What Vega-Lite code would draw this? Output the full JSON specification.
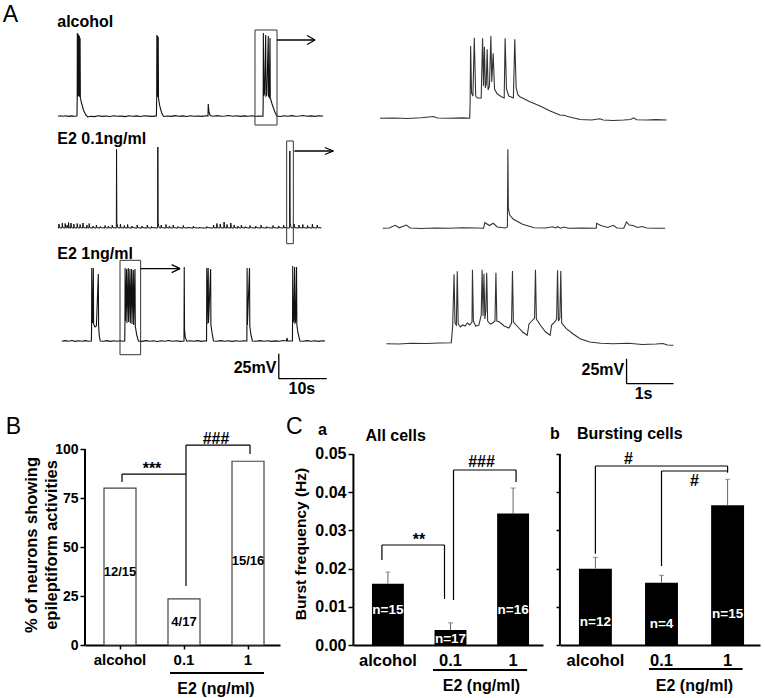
{
"$schema": "https://vega.github.io/schema/vega-lite/v6.json",
"padding": 0,
"background": "white",
"spacing": 0,
"config": {
  "font": "Liberation Sans",
  "view": {"stroke": null},
  "axis": {"labelColor": "#000", "titleColor": "#000", "domainColor": "#000", "tickColor": "#000", "grid": false},
  "text": {"font": "Liberation Sans", "color": "#000"}
},
"datasets": {
  "alcL": [
    {"t":0,"v":-60.2},{"t":0.5,"v":-59.7},{"t":1.0,"v":-60.3},{"t":1.6,"v":-59.8},{"t":2.2,"v":-60.4},{"t":2.8,"v":-59.9},{"t":3.4,"v":-60.3},{"t":3.95,"v":-60.0},
    {"t":4.0,"v":-44},{"t":4.03,"v":23},{"t":4.09,"v":-41},{"t":4.18,"v":22},{"t":4.24,"v":-40},{"t":4.32,"v":21},{"t":4.38,"v":-40},{"t":4.46,"v":20},{"t":4.52,"v":-41},{"t":4.6,"v":18},{"t":4.66,"v":-42},{"t":4.9,"v":-47},{"t":5.3,"v":-54},{"t":5.8,"v":-59},{"t":6.2,"v":-61},
    {"t":6.9,"v":-60.2},{"t":7.6,"v":-60.6},{"t":8.4,"v":-59.8},{"t":9.2,"v":-60.4},{"t":10.0,"v":-60.0},{"t":10.8,"v":-60.5},{"t":11.6,"v":-59.7},{"t":12.4,"v":-60.3},{"t":13.2,"v":-60.1},{"t":14.0,"v":-60.6},{"t":14.8,"v":-59.8},{"t":15.6,"v":-60.2},{"t":16.4,"v":-59.9},{"t":17.2,"v":-60.5},{"t":18.0,"v":-59.8},{"t":18.8,"v":-60.1},{"t":19.6,"v":-60.4},{"t":20.5,"v":-59.9},
    {"t":20.56,"v":-43},{"t":20.6,"v":21},{"t":20.66,"v":-40},{"t":20.74,"v":20},{"t":20.8,"v":-41},{"t":20.88,"v":19},{"t":20.94,"v":-42},{"t":21.2,"v":-50},{"t":21.6,"v":-57},{"t":22.0,"v":-60.5},
    {"t":22.8,"v":-60.0},{"t":23.6,"v":-60.4},{"t":24.4,"v":-59.6},{"t":25.2,"v":-60.2},{"t":26.0,"v":-59.9},{"t":26.8,"v":-60.5},{"t":27.6,"v":-59.7},{"t":28.4,"v":-60.3},{"t":29.2,"v":-60.0},{"t":30.0,"v":-60.4},{"t":30.8,"v":-59.8},{"t":31.25,"v":-60.0},{"t":31.3,"v":-48},{"t":31.45,"v":-56},{"t":31.7,"v":-59.5},
    {"t":32.4,"v":-60.2},{"t":33.2,"v":-59.6},{"t":34.0,"v":-60.3},{"t":34.8,"v":-60.0},{"t":35.6,"v":-59.5},{"t":36.4,"v":-60.3},{"t":37.2,"v":-59.8},{"t":38.0,"v":-60.4},{"t":38.8,"v":-59.9},{"t":39.6,"v":-60.2},{"t":40.4,"v":-59.7},{"t":41.2,"v":-60.3},{"t":42.0,"v":-60.0},{"t":42.7,"v":-60.2},
    {"t":42.75,"v":-44},{"t":42.78,"v":23},{"t":42.85,"v":-40},{"t":43.0,"v":-38},{"t":43.27,"v":21},{"t":43.33,"v":-40},{"t":43.5,"v":-39},{"t":43.81,"v":20},{"t":43.87,"v":-40},{"t":44.0,"v":-41},{"t":44.17,"v":18},{"t":44.23,"v":-42},{"t":44.6,"v":-48},{"t":45.1,"v":-55},{"t":45.6,"v":-60},
    {"t":46.3,"v":-60.5},{"t":47.1,"v":-59.8},{"t":47.9,"v":-60.2},{"t":48.7,"v":-59.6},{"t":49.5,"v":-60.3},{"t":50.3,"v":-60.0},{"t":51.1,"v":-59.5},{"t":51.9,"v":-60.2},{"t":52.7,"v":-59.9},{"t":53.5,"v":-60.4},{"t":54.3,"v":-59.8},{"t":55.2,"v":-60.0}
  ],
  "e01L": [
    {"t":0.0,"v":-60.0},
    {"t":0.14,"v":-60.1},{"t":0.2,"v":-56},{"t":0.3,"v":-59.6},
    {"t":0.84,"v":-60.1},{"t":0.9,"v":-55},{"t":1.0,"v":-59.6},
    {"t":1.44,"v":-60.1},{"t":1.5,"v":-55.5},{"t":1.6,"v":-59.6},
    {"t":1.84,"v":-60.1},{"t":1.9,"v":-57},{"t":2.0,"v":-59.6},
    {"t":2.14,"v":-60.1},{"t":2.2,"v":-54.5},{"t":2.3,"v":-59.6},
    {"t":2.64,"v":-60.1},{"t":2.7,"v":-55},{"t":2.8,"v":-59.6},
    {"t":3.24,"v":-60.1},{"t":3.3,"v":-56},{"t":3.4,"v":-59.6},
    {"t":3.94,"v":-60.1},{"t":4.0,"v":-55.5},{"t":4.1,"v":-59.6},
    {"t":4.54,"v":-60.1},{"t":4.6,"v":-56.5},{"t":4.7,"v":-59.6},
    {"t":5.14,"v":-60.1},{"t":5.2,"v":-55},{"t":5.3,"v":-59.6},
    {"t":5.94,"v":-60.1},{"t":6.0,"v":-57},{"t":6.1,"v":-59.6},
    {"t":6.44,"v":-60.1},{"t":6.5,"v":-55.5},{"t":6.6,"v":-59.6},
    {"t":7.24,"v":-60.1},{"t":7.3,"v":-58},{"t":7.4,"v":-59.6},
    {"t":7.94,"v":-60.1},{"t":8.0,"v":-57},{"t":8.1,"v":-59.6},
    {"t":8.74,"v":-60.1},{"t":8.8,"v":-58.5},{"t":8.9,"v":-59.6},
    {"t":9.74,"v":-60.1},{"t":9.8,"v":-57.5},{"t":9.9,"v":-59.6},
    {"t":10.44,"v":-60.1},{"t":10.5,"v":-58},{"t":10.6,"v":-59.6},
    {"t":11.24,"v":-60.1},{"t":11.3,"v":-57},{"t":11.4,"v":-59.6},
    {"t":12.15,"v":-60},{"t":12.2,"v":18.7},{"t":12.26,"v":-55},{"t":12.45,"v":-59.5},
    {"t":12.94,"v":-60.1},{"t":13.0,"v":-56},{"t":13.1,"v":-59.6},
    {"t":13.74,"v":-60.1},{"t":13.8,"v":-57.5},{"t":13.9,"v":-59.6},
    {"t":14.44,"v":-60.1},{"t":14.5,"v":-56.5},{"t":14.6,"v":-59.6},
    {"t":15.34,"v":-60.1},{"t":15.4,"v":-58},{"t":15.5,"v":-59.6},
    {"t":16.44,"v":-60.1},{"t":16.5,"v":-57},{"t":16.6,"v":-59.6},
    {"t":17.44,"v":-60.1},{"t":17.5,"v":-58},{"t":17.6,"v":-59.6},
    {"t":18.54,"v":-60.1},{"t":18.6,"v":-57},{"t":18.7,"v":-59.6},
    {"t":19.44,"v":-60.1},{"t":19.5,"v":-58.5},{"t":19.6,"v":-59.6},
    {"t":20.75,"v":-60},{"t":20.8,"v":21},{"t":20.86,"v":-55},{"t":21.05,"v":-59.5},
    {"t":21.44,"v":-60.1},{"t":21.5,"v":-57},{"t":21.6,"v":-59.6},
    {"t":22.44,"v":-60.1},{"t":22.5,"v":-56.5},{"t":22.6,"v":-59.6},
    {"t":23.14,"v":-60.1},{"t":23.2,"v":-58},{"t":23.3,"v":-59.6},
    {"t":23.94,"v":-60.1},{"t":24.0,"v":-57},{"t":24.1,"v":-59.6},
    {"t":24.94,"v":-60.1},{"t":25.0,"v":-58.5},{"t":25.1,"v":-59.6},
    {"t":26.04,"v":-60.1},{"t":26.1,"v":-57.5},{"t":26.2,"v":-59.6},
    {"t":26.94,"v":-60.1},{"t":27.0,"v":-59},{"t":27.1,"v":-59.6},
    {"t":28.14,"v":-60.1},{"t":28.2,"v":-58},{"t":28.3,"v":-59.6},
    {"t":29.44,"v":-60.1},{"t":29.5,"v":-59},{"t":29.6,"v":-59.8},
    {"t":30.94,"v":-60.1},{"t":31.0,"v":-58.5},{"t":31.1,"v":-59.6},
    {"t":32.34,"v":-60.1},{"t":32.4,"v":-57},{"t":32.5,"v":-59.6},
    {"t":33.04,"v":-60.1},{"t":33.1,"v":-55.5},{"t":33.2,"v":-59.6},
    {"t":33.74,"v":-60.1},{"t":33.8,"v":-56},{"t":33.9,"v":-59.6},
    {"t":34.54,"v":-60.1},{"t":34.6,"v":-54},{"t":34.7,"v":-59.6},
    {"t":35.14,"v":-60.1},{"t":35.2,"v":-56.5},{"t":35.3,"v":-59.6},
    {"t":35.94,"v":-60.1},{"t":36.0,"v":-55},{"t":36.1,"v":-59.6},
    {"t":36.64,"v":-60.1},{"t":36.7,"v":-57},{"t":36.8,"v":-59.6},
    {"t":37.44,"v":-60.1},{"t":37.5,"v":-58},{"t":37.6,"v":-59.6},
    {"t":38.14,"v":-60.1},{"t":38.2,"v":-57},{"t":38.3,"v":-59.6},
    {"t":38.94,"v":-60.1},{"t":39.0,"v":-58.5},{"t":39.1,"v":-59.6},
    {"t":39.94,"v":-60.1},{"t":40.0,"v":-57.5},{"t":40.1,"v":-59.6},
    {"t":41.14,"v":-60.1},{"t":41.2,"v":-58},{"t":41.3,"v":-59.6},
    {"t":42.24,"v":-60.1},{"t":42.3,"v":-57},{"t":42.4,"v":-59.6},
    {"t":43.44,"v":-60.1},{"t":43.5,"v":-58.5},{"t":43.6,"v":-59.6},
    {"t":44.74,"v":-60.1},{"t":44.8,"v":-57.5},{"t":44.9,"v":-59.6},
    {"t":45.94,"v":-60.1},{"t":46.0,"v":-58},{"t":46.1,"v":-59.6},
    {"t":46.94,"v":-60.1},{"t":47.0,"v":-57},{"t":47.1,"v":-59.6},
    {"t":48.25,"v":-60},{"t":48.3,"v":17},{"t":48.36,"v":-55},{"t":48.55,"v":-59.5},
    {"t":49.14,"v":-60.1},{"t":49.2,"v":-56},{"t":49.3,"v":-59.6},
    {"t":50.14,"v":-60.1},{"t":50.2,"v":-57},{"t":50.3,"v":-59.6},
    {"t":50.94,"v":-60.1},{"t":51.0,"v":-56.5},{"t":51.1,"v":-59.6},
    {"t":51.94,"v":-60.1},{"t":52.0,"v":-57.5},{"t":52.1,"v":-59.6},
    {"t":52.94,"v":-60.1},{"t":53.0,"v":-56},{"t":53.1,"v":-59.6},
    {"t":53.94,"v":-60.1},{"t":54.0,"v":-57},{"t":54.1,"v":-59.6},
    {"t":54.9,"v":-59.8}
  ],
  "e1L": [
    {"t":0.8,"v":-60.2},{"t":1.5,"v":-59.6},{"t":2.2,"v":-60.3},{"t":2.9,"v":-59.5},{"t":3.6,"v":-60.4},{"t":4.3,"v":-59.8},{"t":5.0,"v":-60.2},{"t":5.7,"v":-59.6},{"t":6.4,"v":-60.3},{"t":6.95,"v":-60},
    {"t":7.0,"v":-45},{"t":7.03,"v":13},{"t":7.09,"v":-42},{"t":7.2,"v":-41},{"t":7.36,"v":13},{"t":7.42,"v":-43},{"t":7.7,"v":-46},{"t":8.0,"v":-45},{"t":8.4,"v":7},{"t":8.46,"v":-45},{"t":8.6,"v":-55},{"t":8.8,"v":-60},
    {"t":9.5,"v":-60.3},{"t":10.2,"v":-59.6},{"t":10.9,"v":-60.4},{"t":11.6,"v":-59.8},{"t":12.3,"v":-60.2},{"t":13.0,"v":-59.7},{"t":13.6,"v":-60.3},{"t":13.9,"v":-60},
    {"t":13.95,"v":-44},{"t":13.98,"v":13},{"t":14.04,"v":-40},{"t":14.3,"v":12},{"t":14.36,"v":-42},{"t":14.65,"v":13},{"t":14.71,"v":-41},{"t":15.0,"v":12},{"t":15.06,"v":-42},{"t":15.35,"v":12},{"t":15.41,"v":-43},{"t":15.7,"v":11},{"t":15.76,"v":-44},{"t":16.04,"v":12},{"t":16.1,"v":-45},{"t":16.4,"v":-54},{"t":16.75,"v":-60},
    {"t":17.5,"v":-60.4},{"t":18.3,"v":-59.6},{"t":19.1,"v":-60.2},{"t":19.9,"v":-59.8},{"t":20.7,"v":-60.5},{"t":21.5,"v":-59.7},{"t":22.3,"v":-60.3},{"t":23.1,"v":-59.5},{"t":23.9,"v":-60.2},{"t":24.7,"v":-59.8},{"t":25.5,"v":-60.4},{"t":26.25,"v":-60},
    {"t":26.3,"v":14},{"t":26.36,"v":-48},{"t":26.5,"v":-56},{"t":26.8,"v":-60.2},
    {"t":27.5,"v":-59.7},{"t":28.3,"v":-60.3},{"t":29.1,"v":-59.6},{"t":29.9,"v":-60.4},{"t":30.6,"v":-59.8},{"t":30.95,"v":-60},
    {"t":31.0,"v":13},{"t":31.06,"v":-43},{"t":31.3,"v":13},{"t":31.36,"v":-42},{"t":31.8,"v":12},{"t":31.86,"v":-44},{"t":32.1,"v":-52},{"t":32.4,"v":-60},
    {"t":33.1,"v":-60.3},{"t":33.9,"v":-59.6},{"t":34.7,"v":-60.2},{"t":35.5,"v":-59.8},{"t":36.3,"v":-60.4},{"t":37.1,"v":-59.7},{"t":37.9,"v":-60.2},{"t":38.7,"v":-59.8},{"t":39.35,"v":-60},
    {"t":39.4,"v":13},{"t":39.46,"v":-44},{"t":39.9,"v":13},{"t":39.96,"v":-45},{"t":40.2,"v":-54},{"t":40.5,"v":-60},
    {"t":41.3,"v":-60.3},{"t":42.1,"v":-59.6},{"t":42.9,"v":-60.2},{"t":43.7,"v":-59.7},{"t":44.5,"v":-60.4},{"t":45.3,"v":-59.9},{"t":46.1,"v":-60.2},{"t":46.9,"v":-59.5},{"t":47.6,"v":-60.0},{"t":47.7,"v":-57},{"t":47.85,"v":-60},{"t":48.85,"v":-60},
    {"t":48.9,"v":15},{"t":48.96,"v":-41},{"t":49.1,"v":-40},{"t":49.3,"v":14},{"t":49.36,"v":-42},{"t":49.5,"v":-41},{"t":49.7,"v":14},{"t":49.76,"v":-44},{"t":50.0,"v":-52},{"t":50.4,"v":-60},
    {"t":51.1,"v":-60.3},{"t":51.9,"v":-59.6},{"t":52.7,"v":-60.2},{"t":53.5,"v":-59.8},{"t":54.3,"v":-60.4},{"t":55.0,"v":-59.7},{"t":55.6,"v":-60.1}
  ],
  "alcR": [
    {"t":0.0,"v":-62.3},{"t":0.3,"v":-62.0},{"t":0.6,"v":-62.5},{"t":0.9,"v":-61.8},{"t":1.16,"v":-60.5},{"t":1.25,"v":-62.0},{"t":1.5,"v":-62.3},{"t":1.8,"v":-61.9},{"t":1.95,"v":-62.2},
    {"t":1.96,"v":-45},{"t":1.97,"v":10},{"t":1.99,"v":-37},{"t":2.02,"v":-40},{"t":2.05,"v":18.3},{"t":2.08,"v":-40},{"t":2.12,"v":-42},{"t":2.2,"v":-42},{"t":2.23,"v":17.7},{"t":2.25,"v":-30},{"t":2.27,"v":9.3},{"t":2.29,"v":-32},{"t":2.31,"v":-28},{"t":2.33,"v":6.7},{"t":2.35,"v":-34},{"t":2.38,"v":-30},{"t":2.41,"v":20},{"t":2.43,"v":-26},{"t":2.46,"v":2.7},{"t":2.49,"v":-33},{"t":2.55,"v":-38},{"t":2.65,"v":-41},{"t":2.7,"v":-42},{"t":2.72,"v":17.7},{"t":2.75,"v":-33},{"t":2.8,"v":-40},{"t":2.9,"v":-42},{"t":2.93,"v":16.7},{"t":2.96,"v":-32},{"t":3.0,"v":-39},
    {"t":3.04,"v":-40.7},{"t":3.26,"v":-45.7},{"t":3.48,"v":-50},{"t":3.7,"v":-55},{"t":3.91,"v":-59},{"t":4.02,"v":-59.5},{"t":4.08,"v":-60.5},{"t":4.35,"v":-63.5},{"t":4.6,"v":-64},{"t":4.78,"v":-62.8},{"t":4.85,"v":-64},{"t":5.07,"v":-64.5},{"t":5.3,"v":-64},{"t":5.45,"v":-63.5},{"t":5.51,"v":-61.8},{"t":5.58,"v":-63.8},{"t":5.8,"v":-64},{"t":6.0,"v":-63.6},{"t":6.23,"v":-64}
  ],
  "e01R": [
    {"t":0.06,"v":-60.3},{"t":0.2,"v":-60.0},{"t":0.33,"v":-57.3},{"t":0.42,"v":-59.8},{"t":0.57,"v":-57.0},{"t":0.66,"v":-60},{"t":0.9,"v":-60.5},{"t":1.2,"v":-60.0},{"t":1.5,"v":-60.3},{"t":1.8,"v":-59.8},{"t":2.1,"v":-60.0},{"t":2.25,"v":-60.3},{"t":2.28,"v":-54.7},{"t":2.38,"v":-57.5},{"t":2.46,"v":-55.3},{"t":2.55,"v":-59},{"t":2.72,"v":-60},{"t":2.77,"v":-59},
    {"t":2.78,"v":18.7},{"t":2.79,"v":-40},{"t":2.82,"v":-47},{"t":2.9,"v":-51.3},{"t":3.1,"v":-56.3},{"t":3.35,"v":-59.7},{"t":3.6,"v":-60},{"t":3.75,"v":-58.7},{"t":3.82,"v":-60},{"t":3.86,"v":-58.7},{"t":3.93,"v":-60.2},{"t":4.0,"v":-59},{"t":4.1,"v":-60.2},{"t":4.4,"v":-60},{"t":4.7,"v":-60.3},{"t":4.71,"v":-55.3},{"t":4.8,"v":-57.5},{"t":4.95,"v":-59.5},{"t":5.07,"v":-57.3},{"t":5.15,"v":-60},{"t":5.3,"v":-60.2},{"t":5.36,"v":-54},{"t":5.42,"v":-57},{"t":5.5,"v":-57.5},{"t":5.6,"v":-59.5},{"t":5.7,"v":-58.5},{"t":5.8,"v":-60},{"t":6.0,"v":-60.3},{"t":6.2,"v":-60.2}
  ],
  "e1R": [
    {"t":0.14,"v":-62.7},{"t":0.4,"v":-63},{"t":0.7,"v":-62.3},{"t":1.0,"v":-62.5},{"t":1.3,"v":-62.0},{"t":1.55,"v":-61.8},
    {"t":1.58,"v":-45},{"t":1.61,"v":6.7},{"t":1.63,"v":-42},{"t":1.66,"v":-44},{"t":1.68,"v":9.7},{"t":1.7,"v":-43},{"t":1.75,"v":-46},{"t":1.8,"v":-44},{"t":1.85,"v":-45},{"t":1.9,"v":-42},{"t":1.95,"v":-44},{"t":2.0,"v":-41},{"t":2.01,"v":11.3},{"t":2.03,"v":-40},{"t":2.08,"v":-45},{"t":2.15,"v":-44},{"t":2.2,"v":-34},{"t":2.22,"v":11.3},{"t":2.24,"v":-35},{"t":2.26,"v":7.3},{"t":2.28,"v":-38},{"t":2.3,"v":-30},{"t":2.32,"v":8.3},{"t":2.34,"v":-40},{"t":2.4,"v":-43},{"t":2.45,"v":-42},{"t":2.5,"v":-40},{"t":2.52,"v":8.3},{"t":2.54,"v":-40},{"t":2.6,"v":-41},{"t":2.7,"v":-45},{"t":2.8,"v":-47},{"t":2.86,"v":-42},{"t":2.88,"v":10},{"t":2.9,"v":-41},{"t":3.0,"v":-46},{"t":3.1,"v":-51},{"t":3.2,"v":-54.3},{"t":3.24,"v":-43},{"t":3.3,"v":-40},{"t":3.36,"v":-37},{"t":3.38,"v":11.3},{"t":3.4,"v":-38},{"t":3.5,"v":-45},{"t":3.6,"v":-51},{"t":3.7,"v":-54.3},{"t":3.73,"v":-44},{"t":3.8,"v":-41},{"t":3.84,"v":-38},{"t":3.86,"v":10.7},{"t":3.88,"v":-40},{"t":3.91,"v":-37},{"t":3.93,"v":10},{"t":3.95,"v":-42},
    {"t":4.05,"v":-47.7},{"t":4.2,"v":-53},{"t":4.35,"v":-57.7},{"t":4.56,"v":-61},{"t":4.8,"v":-62.3},{"t":5.07,"v":-62.7},{"t":5.4,"v":-62.2},{"t":5.7,"v":-63.5},{"t":6.0,"v":-63},{"t":6.15,"v":-62.5},{"t":6.25,"v":-64},{"t":6.38,"v":-64.3}
  ]
},
"vconcat": [
  {"bounds": "flush", "spacing": 0, "hconcat": [
   {"width": 345, "height": 130, "layer": [
     {"data": {"name": "alcL"}, "mark": {"type": "line", "color": "#111", "strokeWidth": 1.1},
      "encoding": {"x": {"field": "t", "type": "quantitative", "scale": {"domain": [-12.083, 59.792], "nice": false, "zero": false}, "axis": null},
                   "y": {"field": "v", "type": "quantitative", "scale": {"domain": [-74, 56], "nice": false, "zero": false}, "axis": null}}},
     {"data": {"values": [{"t1": 41.04, "t2": 45.63, "v1": -69, "v2": 26}]}, "mark": {"type": "rect", "fill": "transparent", "stroke": "#333", "strokeWidth": 1},
      "encoding": {"x": {"field": "t1", "type": "quantitative", "axis": null}, "x2": {"field": "t2"}, "y": {"field": "v1", "type": "quantitative", "axis": null}, "y2": {"field": "v2"}}},
     {"data": {"values": [{"t1": 45.63, "t2": 53.54, "v1": 16, "v2": 16}, {"t1": 53.54, "t2": 51.9, "v1": 16, "v2": 20.5}, {"t1": 53.54, "t2": 51.9, "v1": 16, "v2": 11.5}]}, "mark": {"type": "rule", "color": "#000", "strokeWidth": 1.3},
      "encoding": {"x": {"field": "t1", "type": "quantitative", "axis": null}, "x2": {"field": "t2"}, "y": {"field": "v1", "type": "quantitative", "axis": null}, "y2": {"field": "v2"}}},
     {"data": {"values": [{}]}, "mark": {"type": "text", "text": "alcohol", "align": "left", "baseline": "alphabetic", "fontSize": 16, "fontWeight": "bold"},
      "encoding": {"x": {"datum": -0.15, "type": "quantitative", "axis": null}, "y": {"datum": 29.3, "type": "quantitative", "axis": null}}},
     {"data": {"values": [{}]}, "mark": {"type": "text", "text": "A", "align": "center", "baseline": "alphabetic", "fontSize": 23},
      "encoding": {"x": {"datum": -9.9, "type": "quantitative", "axis": null}, "y": {"datum": 34, "type": "quantitative", "axis": null}}}
   ]},
   {"width": 420, "height": 130, "data": {"name": "alcR"}, "mark": {"type": "line", "color": "#333", "strokeWidth": 1.1},
    "encoding": {"x": {"field": "t", "type": "quantitative", "scale": {"domain": [-0.761, 8.37], "nice": false, "zero": false}, "axis": null},
                 "y": {"field": "v", "type": "quantitative", "scale": {"domain": [-74, 56], "nice": false, "zero": false}, "axis": null}}}
  ]},
  {"bounds": "flush", "spacing": 0, "hconcat": [
   {"width": 345, "height": 115, "layer": [
     {"data": {"name": "e01L"}, "mark": {"type": "line", "color": "#111", "strokeWidth": 1.0},
      "encoding": {"x": {"field": "t", "type": "quantitative", "scale": {"domain": [-12.083, 59.792], "nice": false, "zero": false}, "axis": null},
                   "y": {"field": "v", "type": "quantitative", "scale": {"domain": [-78, 37], "nice": false, "zero": false}, "axis": null}}},
     {"data": {"values": [{"t1": 47.64, "t2": 49.03, "v1": -75.7, "v2": 27}]}, "mark": {"type": "rect", "fill": "transparent", "stroke": "#333", "strokeWidth": 1},
      "encoding": {"x": {"field": "t1", "type": "quantitative", "axis": null}, "x2": {"field": "t2"}, "y": {"field": "v1", "type": "quantitative", "axis": null}, "y2": {"field": "v2"}}},
     {"data": {"values": [{"t1": 49.24, "t2": 57.36, "v1": 17, "v2": 17}, {"t1": 57.36, "t2": 55.6, "v1": 17, "v2": 20.5}, {"t1": 57.36, "t2": 55.6, "v1": 17, "v2": 13.5}]}, "mark": {"type": "rule", "color": "#000", "strokeWidth": 1.3},
      "encoding": {"x": {"field": "t1", "type": "quantitative", "axis": null}, "x2": {"field": "t2"}, "y": {"field": "v1", "type": "quantitative", "axis": null}, "y2": {"field": "v2"}}},
     {"data": {"values": [{}]}, "mark": {"type": "text", "text": "E2 0.1ng/ml", "align": "left", "baseline": "alphabetic", "fontSize": 16, "fontWeight": "bold"},
      "encoding": {"x": {"datum": -0.15, "type": "quantitative", "axis": null}, "y": {"datum": 24.3, "type": "quantitative", "axis": null}}}
   ]},
   {"width": 420, "height": 115, "data": {"name": "e01R"}, "mark": {"type": "line", "color": "#333", "strokeWidth": 1.1},
    "encoding": {"x": {"field": "t", "type": "quantitative", "scale": {"domain": [-0.761, 8.37], "nice": false, "zero": false}, "axis": null},
                 "y": {"field": "v", "type": "quantitative", "scale": {"domain": [-78, 37], "nice": false, "zero": false}, "axis": null}}}
  ]},
  {"bounds": "flush", "spacing": 0, "hconcat": [
   {"width": 345, "height": 160, "layer": [
     {"data": {"name": "e1L"}, "mark": {"type": "line", "color": "#111", "strokeWidth": 1.1},
      "encoding": {"x": {"field": "t", "type": "quantitative", "scale": {"domain": [-12.083, 59.792], "nice": false, "zero": false}, "axis": null},
                   "y": {"field": "v", "type": "quantitative", "scale": {"domain": [-126, 34], "nice": false, "zero": false}, "axis": null}}},
     {"data": {"values": [{"t1": 12.92, "t2": 17.22, "v1": -73.7, "v2": 20.7}]}, "mark": {"type": "rect", "fill": "transparent", "stroke": "#333", "strokeWidth": 1},
      "encoding": {"x": {"field": "t1", "type": "quantitative", "axis": null}, "x2": {"field": "t2"}, "y": {"field": "v1", "type": "quantitative", "axis": null}, "y2": {"field": "v2"}}},
     {"data": {"values": [{"t1": 17.22, "t2": 25.42, "v1": 12.3, "v2": 12.3}, {"t1": 25.42, "t2": 23.68, "v1": 12.3, "v2": 16.3}, {"t1": 25.42, "t2": 23.68, "v1": 12.3, "v2": 8.3},
                           {"t1": 46.0, "t2": 46.0, "v1": -72.7, "v2": -97.7}, {"t1": 46.0, "t2": 56.0, "v1": -97.7, "v2": -97.7}]}, "mark": {"type": "rule", "color": "#000", "strokeWidth": 1.3},
      "encoding": {"x": {"field": "t1", "type": "quantitative", "axis": null}, "x2": {"field": "t2"}, "y": {"field": "v1", "type": "quantitative", "axis": null}, "y2": {"field": "v2"}}},
     {"data": {"values": [{}]}, "mark": {"type": "text", "text": "E2 1ng/ml", "align": "left", "baseline": "alphabetic", "fontSize": 16, "fontWeight": "bold"},
      "encoding": {"x": {"datum": -0.15, "type": "quantitative", "axis": null}, "y": {"datum": 21.7, "type": "quantitative", "axis": null}}},
     {"data": {"values": [{}]}, "mark": {"type": "text", "text": "25mV", "align": "right", "baseline": "middle", "fontSize": 16, "fontWeight": "bold"},
      "encoding": {"x": {"datum": 45.5, "type": "quantitative", "axis": null}, "y": {"datum": -87, "type": "quantitative", "axis": null}}},
     {"data": {"values": [{}]}, "mark": {"type": "text", "text": "10s", "align": "center", "baseline": "middle", "fontSize": 16, "fontWeight": "bold"},
      "encoding": {"x": {"datum": 50.8, "type": "quantitative", "axis": null}, "y": {"datum": -107.7, "type": "quantitative", "axis": null}}}
   ]},
   {"width": 420, "height": 160, "layer": [
     {"data": {"name": "e1R"}, "mark": {"type": "line", "color": "#333", "strokeWidth": 1.1},
      "encoding": {"x": {"field": "t", "type": "quantitative", "scale": {"domain": [-0.761, 8.37], "nice": false, "zero": false}, "axis": null},
                   "y": {"field": "v", "type": "quantitative", "scale": {"domain": [-126, 34], "nice": false, "zero": false}, "axis": null}}},
     {"data": {"values": [{"t1": 5.36, "t2": 5.36, "v1": -77.7, "v2": -102.7}, {"t1": 5.36, "t2": 6.38, "v1": -102.7, "v2": -102.7}]}, "mark": {"type": "rule", "color": "#000", "strokeWidth": 1.3},
      "encoding": {"x": {"field": "t1", "type": "quantitative", "axis": null}, "x2": {"field": "t2"}, "y": {"field": "v1", "type": "quantitative", "axis": null}, "y2": {"field": "v2"}}},
     {"data": {"values": [{}]}, "mark": {"type": "text", "text": "25mV", "align": "right", "baseline": "middle", "fontSize": 16, "fontWeight": "bold"},
      "encoding": {"x": {"datum": 5.31, "type": "quantitative", "axis": null}, "y": {"datum": -88.7, "type": "quantitative", "axis": null}}},
     {"data": {"values": [{}]}, "mark": {"type": "text", "text": "1s", "align": "center", "baseline": "middle", "fontSize": 16, "fontWeight": "bold"},
      "encoding": {"x": {"datum": 5.73, "type": "quantitative", "axis": null}, "y": {"datum": -112.7, "type": "quantitative", "axis": null}}}
   ]}
  ]},
 {"bounds": "flush", "spacing": 0, "hconcat": [
  {"width": 85, "height": 238, "data": {"values": []}, "mark": "point"},
  {"width": 195, "height": 238, "layer": [
    {"data": {"values": [{"group": "alcohol", "pct": 80}, {"group": "0.1", "pct": 23.5}, {"group": "1", "pct": 93.75}]},
     "mark": {"type": "bar", "fill": "white", "stroke": "#444", "strokeWidth": 1.2},
     "encoding": {
       "x": {"field": "group", "type": "nominal", "sort": ["alcohol", "0.1", "1"], "scale": {"domain": ["alcohol", "0.1", "1"], "paddingInner": 0.5, "paddingOuter": 0.2734, "align": 0.543},
             "axis": {"title": null, "labelAngle": 0, "labelFontSize": 15, "labelFontWeight": "bold", "labelPadding": 3, "tickSize": 4, "tickWidth": 1.5, "domainWidth": 2}},
       "y": {"field": "pct", "type": "quantitative", "scale": {"domain": [0, 121.43], "nice": false, "zero": true},
             "axis": {"values": [0, 25, 50, 75, 100], "domain": false, "title": ["% of neurons showing", "epileptiform activities"], "titleFontSize": 16.5, "titleFontWeight": "bold", "titleLineHeight": 20, "titleX": -54, "titleY": 137.5, "titleBaseline": "middle", "titleAngle": -90, "labelFontSize": 14, "labelFontWeight": "bold", "labelPadding": 2, "tickSize": 5, "tickWidth": 1.5}}}},
    {"data": {"values": [{}]}, "mark": {"type": "rule", "color": "#000", "strokeWidth": 2, "xOffset": -35},
     "encoding": {"x": {"datum": "alcohol", "type": "nominal"}, "y": {"datum": 0, "type": "quantitative"}, "y2": {"datum": 100}}},
    {"data": {"values": [{"group": "alcohol", "label": "12/15", "y": 37}, {"group": "0.1", "label": "4/17", "y": 11.7}, {"group": "1", "label": "15/16", "y": 42.9}]},
     "mark": {"type": "text", "fontSize": 13, "fontWeight": "bold", "baseline": "middle"},
     "encoding": {"x": {"field": "group", "type": "nominal"}, "y": {"field": "y", "type": "quantitative"}, "text": {"field": "label"}}},
    {"data": {"values": [{"x": "alcohol", "x2": "alcohol", "y": 83.2, "y2": 87.2}, {"x": "alcohol", "x2": "0.1", "y": 87.2, "y2": 87.2}, {"x": "0.1", "x2": "0.1", "y": 30.1, "y2": 102}, {"x": "0.1", "x2": "1", "y": 102, "y2": 102}, {"x": "1", "x2": "1", "y": 97.4, "y2": 102}]},
     "mark": {"type": "rule", "color": "#000", "strokeWidth": 1.2, "xOffset": 2, "x2Offset": 2},
     "encoding": {"x": {"field": "x", "type": "nominal"}, "x2": {"field": "x2"}, "y": {"field": "y", "type": "quantitative"}, "y2": {"field": "y2"}}},
    {"data": {"values": [{"x": "alcohol", "label": "***", "y": 90}, {"x": "0.1", "label": "###", "y": 105}, {"x": "0.1", "label": "E2 (ng/ml)", "y": -22.4}]},
     "mark": {"type": "text", "fontSize": 16, "fontWeight": "bold", "baseline": "middle", "xOffset": 32},
     "encoding": {"x": {"field": "x", "type": "nominal"}, "y": {"field": "y", "type": "quantitative"}, "text": {"field": "label"}}},
    {"data": {"values": [{"x": "0.1", "x2": "1", "y": -14.3}]},
     "mark": {"type": "rule", "color": "#000", "strokeWidth": 2, "xOffset": -14, "x2Offset": 16},
     "encoding": {"x": {"field": "x", "type": "nominal"}, "x2": {"field": "x2"}, "y": {"field": "y", "type": "quantitative"}}},
    {"data": {"values": [{}]}, "mark": {"type": "text", "text": "B", "fontSize": 23, "baseline": "alphabetic", "align": "center", "xOffset": -106.5},
     "encoding": {"x": {"datum": "alcohol", "type": "nominal"}, "y": {"datum": 107.8, "type": "quantitative"}}}
  ]},
  {"width": 73, "height": 238, "data": {"values": []}, "mark": "point"},
  {"width": 190, "height": 238, "layer": [
    {"data": {"values": [{"group": "alcohol", "freq": 0.01605, "err": 0.0191}, {"group": "0.1", "freq": 0.0039, "err": 0.0058}, {"group": "1", "freq": 0.0344, "err": 0.0411}]},
     "mark": {"type": "bar", "color": "#000"},
     "encoding": {
       "x": {"field": "group", "type": "nominal", "sort": ["alcohol", "0.1", "1"], "scale": {"domain": ["alcohol", "0.1", "1"], "paddingInner": 0.49, "paddingOuter": 0.263, "align": 0.576},
             "axis": {"title": null, "labelAngle": 0, "labelFontSize": 16.5, "labelFontWeight": "bold", "labelPadding": 7, "ticks": false, "tickSize": 0, "domainWidth": 2}},
       "y": {"field": "freq", "type": "quantitative", "scale": {"domain": [0, 0.0623], "nice": false, "zero": true},
             "axis": {"values": [0, 0.01, 0.02, 0.03, 0.04, 0.05], "domain": false, "format": ".2f", "title": "Burst frequency (Hz)", "titleFontSize": 15.5, "titleFontWeight": "bold", "titleX": -53, "titleY": 136.5, "titleBaseline": "middle", "titleAngle": -90, "labelFontSize": 16, "labelFontWeight": "bold", "labelPadding": 2, "tickSize": 5, "tickWidth": 1.5}}}},
    {"data": {"values": [{}]}, "mark": {"type": "rule", "color": "#000", "strokeWidth": 2, "xOffset": -34.5},
     "encoding": {"x": {"datum": "alcohol", "type": "nominal"}, "y": {"datum": 0, "type": "quantitative"}, "y2": {"datum": 0.05}}},
    {"data": {"values": [{"group": "alcohol", "freq": 0.01605, "err": 0.0191}, {"group": "0.1", "freq": 0.0039, "err": 0.0058}, {"group": "1", "freq": 0.0344, "err": 0.0411}]},
     "mark": {"type": "rule", "color": "#666", "strokeWidth": 1},
     "encoding": {"x": {"field": "group", "type": "nominal"}, "y": {"field": "freq", "type": "quantitative"}, "y2": {"field": "err"}}},
    {"data": {"values": [{"group": "alcohol", "freq": 0.01605, "err": 0.0191}, {"group": "0.1", "freq": 0.0039, "err": 0.0058}, {"group": "1", "freq": 0.0344, "err": 0.0411}]},
     "mark": {"type": "tick", "color": "#666", "size": 5, "thickness": 1},
     "encoding": {"x": {"field": "group", "type": "nominal"}, "y": {"field": "err", "type": "quantitative"}}},
    {"data": {"values": [{"group": "alcohol", "label": "n=15", "y": 0.00916}, {"group": "0.1", "label": "n=17", "y": 0.0016}, {"group": "1", "label": "n=16", "y": 0.00916}]},
     "mark": {"type": "text", "fontSize": 13.5, "fontWeight": "bold", "baseline": "middle", "color": "white"},
     "encoding": {"x": {"field": "group", "type": "nominal"}, "y": {"field": "y", "type": "quantitative"}, "text": {"field": "label"}}},
    {"data": {"values": [{"x": "alcohol", "x2": "alcohol", "y": 0.02225, "y2": 0.02618}, {"x": "alcohol", "x2": "0.1", "y": 0.02618, "y2": 0.02618}, {"x": "0.1", "x2": "0.1", "y": 0.01204, "y2": 0.02618}]},
     "mark": {"type": "rule", "color": "#000", "strokeWidth": 1.2, "xOffset": -6, "x2Offset": -6},
     "encoding": {"x": {"field": "x", "type": "nominal"}, "x2": {"field": "x2"}, "y": {"field": "y", "type": "quantitative"}, "y2": {"field": "y2"}}},
    {"data": {"values": [{"x": "0.1", "x2": "0.1", "y": 0.01178, "y2": 0.04581}, {"x": "0.1", "x2": "1", "y": 0.04581, "y2": 0.04581}, {"x": "1", "x2": "1", "y": 0.04267, "y2": 0.04581}]},
     "mark": {"type": "rule", "color": "#000", "strokeWidth": 1.2, "xOffset": 3, "x2Offset": 3},
     "encoding": {"x": {"field": "x", "type": "nominal"}, "x2": {"field": "x2"}, "y": {"field": "y", "type": "quantitative"}, "y2": {"field": "y2"}}},
    {"data": {"values": [{"x": "alcohol", "label": "**", "y": 0.0275}, {"x": "0.1", "label": "###", "y": 0.0479}, {"x": "0.1", "label": "E2 (ng/ml)", "y": -0.01073}]},
     "mark": {"type": "text", "fontSize": 16, "fontWeight": "bold", "baseline": "middle", "xOffset": 31},
     "encoding": {"x": {"field": "x", "type": "nominal"}, "y": {"field": "y", "type": "quantitative"}, "text": {"field": "label"}}},
    {"data": {"values": [{"x": "0.1", "x2": "1", "y": -0.00654}]},
     "mark": {"type": "rule", "color": "#000", "strokeWidth": 2, "xOffset": -17.5, "x2Offset": 14},
     "encoding": {"x": {"field": "x", "type": "nominal"}, "x2": {"field": "x2"}, "y": {"field": "y", "type": "quantitative"}}},
    {"data": {"values": [{}]}, "mark": {"type": "text", "text": "C", "fontSize": 23, "baseline": "alphabetic", "align": "center", "xOffset": -93.5},
     "encoding": {"x": {"datum": "alcohol", "type": "nominal"}, "y": {"datum": 0.0553, "type": "quantitative"}}},
    {"data": {"values": [{}]}, "mark": {"type": "text", "text": "a", "fontSize": 16, "fontWeight": "bold", "baseline": "alphabetic", "align": "center", "xOffset": -65.5},
     "encoding": {"x": {"datum": "alcohol", "type": "nominal"}, "y": {"datum": 0.0550, "type": "quantitative"}}},
    {"data": {"values": [{}]}, "mark": {"type": "text", "text": "All cells", "fontSize": 16, "fontWeight": "bold", "baseline": "alphabetic", "align": "left", "xOffset": -22.5},
     "encoding": {"x": {"datum": "alcohol", "type": "nominal"}, "y": {"datum": 0.0533, "type": "quantitative"}}}
  ]},
  {"width": 17, "height": 238, "data": {"values": []}, "mark": "point"},
  {"width": 200, "height": 238, "layer": [
    {"data": {"values": [{"group": "alcohol", "freq": 0.01997, "err": 0.02295}, {"group": "0.1", "freq": 0.01632, "err": 0.01824}, {"group": "1", "freq": 0.03656, "err": 0.04337}]},
     "mark": {"type": "bar", "color": "#000"},
     "encoding": {
       "x": {"field": "group", "type": "nominal", "sort": ["alcohol", "0.1", "1"], "scale": {"domain": ["alcohol", "0.1", "1"], "paddingInner": 0.502, "paddingOuter": 0.264, "align": 0.543},
             "axis": {"title": null, "labelAngle": 0, "labelFontSize": 16.5, "labelFontWeight": "bold", "labelPadding": 7, "ticks": false, "tickSize": 0, "domainWidth": 2}},
       "y": {"field": "freq", "type": "quantitative", "scale": {"domain": [0, 0.0623], "nice": false, "zero": true},
             "axis": {"values": [0, 0.01, 0.02, 0.03, 0.04, 0.05], "domain": false, "labels": false, "title": null, "tickSize": 4, "tickWidth": 1.5}}}},
    {"data": {"values": [{}]}, "mark": {"type": "rule", "color": "#000", "strokeWidth": 2, "xOffset": -35.5},
     "encoding": {"x": {"datum": "alcohol", "type": "nominal"}, "y": {"datum": 0, "type": "quantitative"}, "y2": {"datum": 0.05}}},
    {"data": {"values": [{"group": "alcohol", "freq": 0.01997, "err": 0.02295}, {"group": "0.1", "freq": 0.01632, "err": 0.01824}, {"group": "1", "freq": 0.03656, "err": 0.04337}]},
     "mark": {"type": "rule", "color": "#666", "strokeWidth": 1},
     "encoding": {"x": {"field": "group", "type": "nominal"}, "y": {"field": "freq", "type": "quantitative"}, "y2": {"field": "err"}}},
    {"data": {"values": [{"group": "alcohol", "freq": 0.01997, "err": 0.02295}, {"group": "0.1", "freq": 0.01632, "err": 0.01824}, {"group": "1", "freq": 0.03656, "err": 0.04337}]},
     "mark": {"type": "tick", "color": "#666", "size": 5, "thickness": 1},
     "encoding": {"x": {"field": "group", "type": "nominal"}, "y": {"field": "err", "type": "quantitative"}}},
    {"data": {"values": [{"group": "alcohol", "label": "n=12", "y": 0.006}, {"group": "0.1", "label": "n=4", "y": 0.0056}, {"group": "1", "label": "n=15", "y": 0.008}]},
     "mark": {"type": "text", "fontSize": 13.5, "fontWeight": "bold", "baseline": "middle", "color": "white"},
     "encoding": {"x": {"field": "group", "type": "nominal"}, "y": {"field": "y", "type": "quantitative"}, "text": {"field": "label"}}},
    {"data": {"values": [{"x": "alcohol", "x2": "alcohol", "y": 0.0239, "y2": 0.04686}, {"x": "alcohol", "x2": "1", "y": 0.04686, "y2": 0.04686}, {"x": "1", "x2": "1", "y": 0.0451, "y2": 0.04686}, {"x": "0.1", "x2": "0.1", "y": 0.02068, "y2": 0.04555}, {"x": "0.1", "x2": "1", "y": 0.04555, "y2": 0.04555}]},
     "mark": {"type": "rule", "color": "#000", "strokeWidth": 1.2},
     "encoding": {"x": {"field": "x", "type": "nominal"}, "x2": {"field": "x2"}, "y": {"field": "y", "type": "quantitative"}, "y2": {"field": "y2"}}},
    {"data": {"values": [{"x": "alcohol", "label": "#", "y": 0.0486}, {"x": "0.1", "label": "#", "y": 0.0429}, {"x": "0.1", "label": "E2 (ng/ml)", "y": -0.0107}]},
     "mark": {"type": "text", "fontSize": 16, "fontWeight": "bold", "baseline": "middle", "xOffset": 33},
     "encoding": {"x": {"field": "x", "type": "nominal"}, "y": {"field": "y", "type": "quantitative"}, "text": {"field": "label"}}},
    {"data": {"values": [{"x": "0.1", "x2": "1", "y": -0.00628}]},
     "mark": {"type": "rule", "color": "#000", "strokeWidth": 2, "xOffset": -12.5, "x2Offset": 15},
     "encoding": {"x": {"field": "x", "type": "nominal"}, "x2": {"field": "x2"}, "y": {"field": "y", "type": "quantitative"}}},
    {"data": {"values": [{}]}, "mark": {"type": "text", "text": "b", "fontSize": 16, "fontWeight": "bold", "baseline": "alphabetic", "align": "center", "xOffset": -40.5},
     "encoding": {"x": {"datum": "alcohol", "type": "nominal"}, "y": {"datum": 0.0539, "type": "quantitative"}}},
    {"data": {"values": [{}]}, "mark": {"type": "text", "text": "Bursting cells", "fontSize": 16, "fontWeight": "bold", "baseline": "alphabetic", "align": "left", "xOffset": -18.5},
     "encoding": {"x": {"datum": "alcohol", "type": "nominal"}, "y": {"datum": 0.054, "type": "quantitative"}}}
  ]}
 ]}
]
}
